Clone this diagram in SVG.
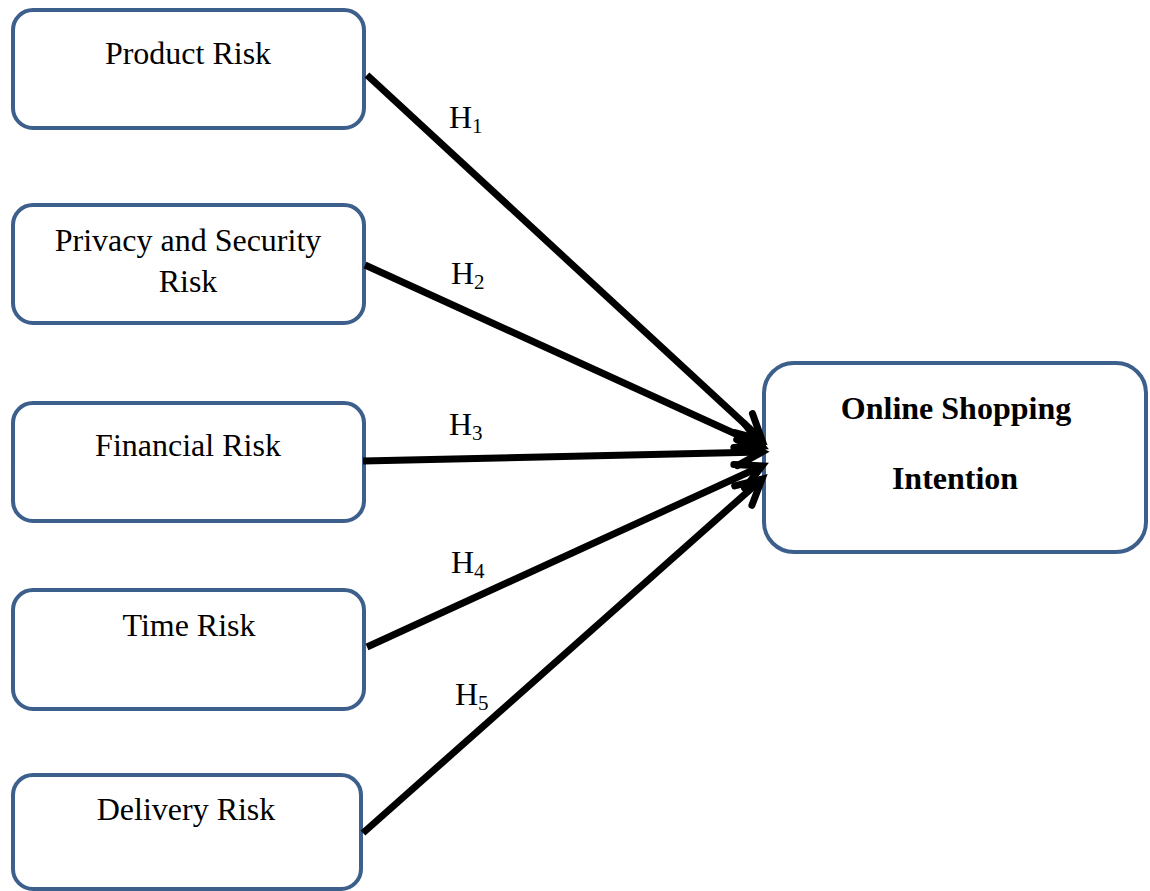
<svg xmlns="http://www.w3.org/2000/svg" width="1150" height="891" viewBox="0 0 1150 891">
<defs>
<marker id="ah" markerUnits="userSpaceOnUse" markerWidth="40" markerHeight="40" refX="30" refY="15" orient="auto" viewBox="0 0 40 30">
<path d="M5,2 L30,15 L5,28" fill="none" stroke="#000" stroke-width="7" stroke-linecap="round" stroke-linejoin="miter"/>
</marker>
</defs>
<style>
.box{fill:#fff;stroke:#3d5f8c;stroke-width:4}
.t{font-family:"Liberation Serif",serif;font-size:32px;fill:#000;text-anchor:middle}
.b{font-weight:bold}
.h{font-family:"Liberation Serif",serif;font-size:32px;fill:#000}
.s{font-size:21px}
.c{stroke:#000;stroke-width:7;fill:none;marker-end:url(#ah)}
</style>
<g id="product"><rect class="box" x="13" y="10" width="351" height="118" rx="20"/><text class="t" x="188" y="64">Product Risk</text></g>
<g id="privacy"><rect class="box" x="13" y="205" width="351" height="118" rx="20"/><text class="t" x="188" y="251">Privacy and Security</text><text class="t" x="188" y="292">Risk</text></g>
<g id="financial"><rect class="box" x="13" y="403" width="351" height="118" rx="20"/><text class="t" x="188" y="456">Financial Risk</text></g>
<g id="time"><rect class="box" x="13" y="590" width="351" height="119" rx="20"/><text class="t" x="189" y="636">Time Risk</text></g>
<g id="delivery"><rect class="box" x="13" y="775" width="348" height="114" rx="20"/><text class="t" x="186" y="820">Delivery Risk</text></g>
<g id="intention"><rect class="box" x="764" y="363" width="382" height="189" rx="30"/><text class="t b" x="956" y="419">Online Shopping</text><text class="t b" x="955" y="489">Intention</text></g>
<g id="connectors">
<line class="c" x1="367" y1="75" x2="762" y2="440"/>
<line class="c" x1="365" y1="265" x2="762" y2="446"/>
<line class="c" x1="363" y1="461" x2="762" y2="452"/>
<line class="c" x1="367" y1="647" x2="762" y2="466"/>
<line class="c" x1="363" y1="833" x2="762" y2="479"/>
</g>
<g id="labels">
<text class="h" x="449" y="128">H<tspan class="s" dy="5">1</tspan></text>
<text class="h" x="451" y="284">H<tspan class="s" dy="5">2</tspan></text>
<text class="h" x="449" y="435">H<tspan class="s" dy="5">3</tspan></text>
<text class="h" x="451" y="573">H<tspan class="s" dy="5">4</tspan></text>
<text class="h" x="455" y="705">H<tspan class="s" dy="5">5</tspan></text>
</g>
</svg>
